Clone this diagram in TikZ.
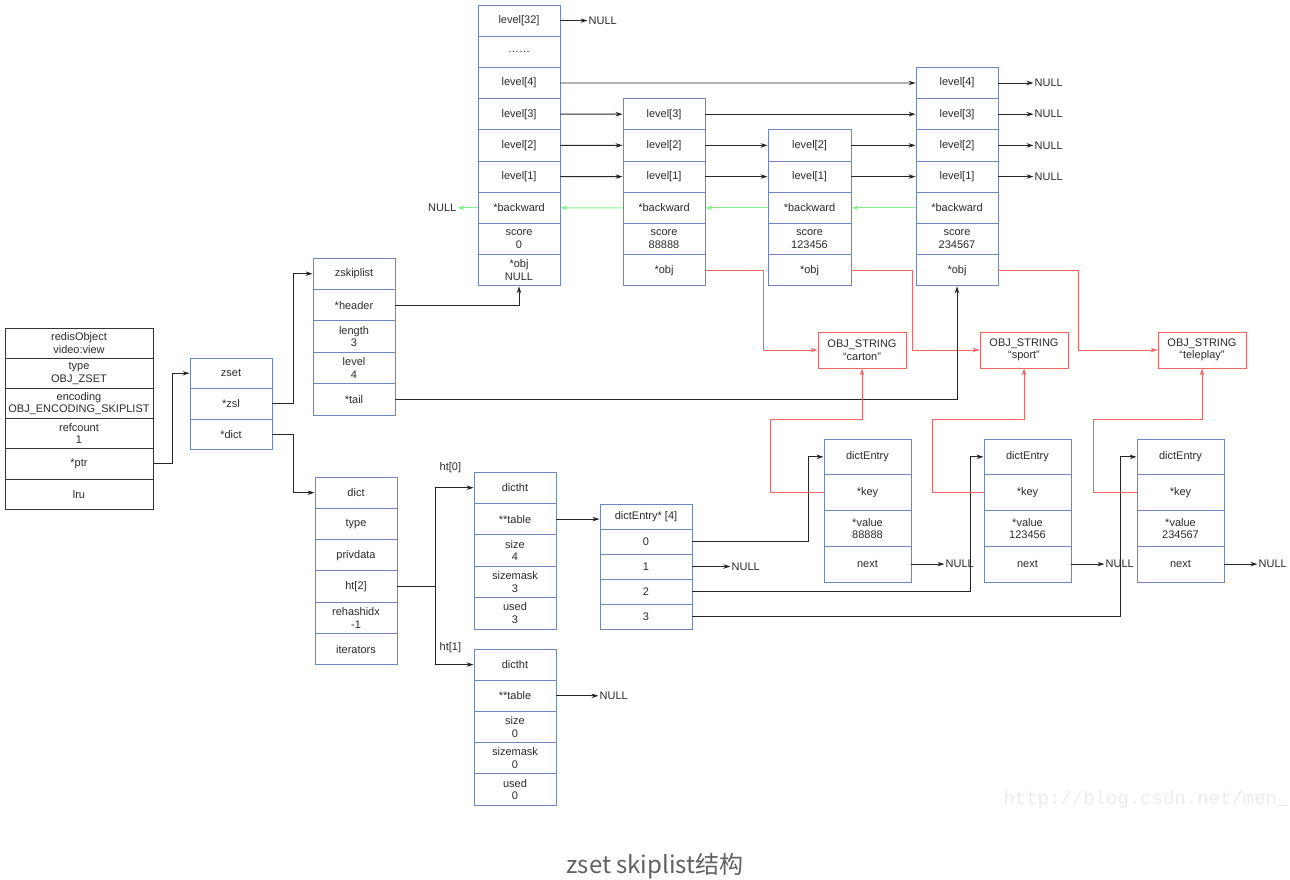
\documentclass[tikz,border=0pt]{standalone}
\usepackage{fontspec}
\setmainfont{Liberation Sans}
\newfontfamily\capfont{Noto Sans CJK SC}
\newfontfamily\wmfont{Liberation Mono}
\usetikzlibrary{arrows.meta}
\definecolor{boxblue}{HTML}{6F86C0}
\definecolor{objred}{HTML}{F06464}
\definecolor{backgreen}{HTML}{88EE88}
\definecolor{txtgray}{HTML}{2A2A2A}
\begin{document}
\begin{tikzpicture}[x=1pt,y=-1pt,
    cell/.style={draw=boxblue,line width=0.9pt,inner sep=0pt,align=center,text=txtgray,font=\fontsize{11}{12.5}\selectfont},
    strbox/.style={cell,draw=objred,minimum width=88pt,minimum height=36pt},
    nul/.style={anchor=west,inner sep=1pt,text=txtgray,font=\fontsize{11}{12.5}\selectfont},
    ptr/.style={-{Stealth[length=7pt,width=4.5pt]},line width=0.9pt,draw=black!85},
    objptr/.style={ptr,draw=objred},
    backptr/.style={ptr,draw=backgreen}]
    \useasboundingbox (0,0) rectangle (1290,880);

    \foreach [count=\i] \t in {{redisObject\\video:view},{type\\OBJ\_ZSET},{encoding\\OBJ\_ENCODING\_SKIPLIST},{refcount\\1},*ptr,lru}
        \node[cell,draw=black!80,minimum width=148pt,minimum height=30.2pt] (ro-\i) at (79,312.9+30.2*\i) {\t};
    \foreach [count=\i] \t in {zset,*zsl,*dict}
        \node[cell,minimum width=82pt,minimum height=30.5pt] (zs-\i) at (231,342.75+30.5*\i) {\t};
    \foreach [count=\i] \t in {zskiplist,*header,{length\\3},{level\\4},*tail}
        \node[cell,minimum width=82pt,minimum height=31.4pt] (zl-\i) at (354,242.3+31.4*\i) {\t};

    \foreach [count=\i] \t in {level[32],{\ldots\ldots},level[4],level[3],level[2],level[1],*backward,{score\\0},{*obj\\NULL}}
        \node[cell,minimum width=82pt,minimum height=31.2pt] (hd-\i) at (519,-10.6+31.2*\i) {\t};
    \foreach [count=\i] \t in {level[3],level[2],level[1],*backward,{score\\88888},*obj}
        \node[cell,minimum width=82pt,minimum height=31.2pt] (sk1-\i) at (664,83+31.2*\i) {\t};
    \foreach [count=\i] \t in {level[2],level[1],*backward,{score\\123456},*obj}
        \node[cell,minimum width=83pt,minimum height=31.2pt] (sk2-\i) at (809.5,114.2+31.2*\i) {\t};
    \foreach [count=\i] \t in {level[4],level[3],level[2],level[1],*backward,{score\\234567},*obj}
        \node[cell,minimum width=82pt,minimum height=31.2pt] (sk3-\i) at (957,51.8+31.2*\i) {\t};

    \node[strbox] (os1) at (862,350) {OBJ\_STRING\\``carton''};
    \node[strbox] (os2) at (1024,350) {OBJ\_STRING\\``sport''};
    \node[strbox] (os3) at (1202,350) {OBJ\_STRING\\``teleplay''};

    \foreach [count=\i] \t in {dict,type,privdata,ht[2],{rehashidx\\-1},iterators}
        \node[cell,minimum width=82pt,minimum height=31.3pt] (dc-\i) at (356,461.35+31.3*\i) {\t};
    \foreach [count=\i] \t in {dictht,**table,{size\\4},{sizemask\\3},{used\\3}}
        \node[cell,minimum width=82pt,minimum height=31.4pt] (ta-\i) at (515,456.3+31.4*\i) {\t};
    \foreach [count=\i] \t in {dictht,**table,{size\\0},{sizemask\\0},{used\\0}}
        \node[cell,minimum width=82pt,minimum height=31.2pt] (tb-\i) at (515,633.4+31.2*\i) {\t};
    \foreach [count=\i] \t in {dictEntry* [4],0,1,2,3}
        \node[cell,minimum width=92pt,minimum height=25pt] (de-\i) at (646,491.5+25*\i) {\t};
    \foreach \e/\x/\v in {e1/867.5/88888,e2/1027.5/123456,e3/1180.5/234567}
        \foreach [count=\i] \t in {dictEntry,*key,{*value\\\v},next}
            \node[cell,minimum width=87pt,minimum height=35.75pt] (\e-\i) at (\x,421.1+35.75*\i) {\t};

    \node[nul] (nl-32) at ([xshift=27pt]hd-1.east) {NULL};
    \node[nul,anchor=east] (nl-b) at ([xshift=-20pt]hd-7.west) {NULL};
    \foreach \i in {1,...,4}
        \node[nul] (nl-\i) at ([xshift=35pt]sk3-\i.east) {NULL};
    \node[nul] (nl-tb) at ([xshift=42pt]tb-2.east) {NULL};
    \node[nul] (nl-de) at ([xshift=38pt]de-3.east) {NULL};
    \foreach \e in {e1,e2,e3}
        \node[nul] (nl-\e) at ([xshift=33pt]\e-4.east) {NULL};

    % skiplist levels
    \foreach \a/\b in {hd-3/sk3-1,hd-4/sk1-1,sk1-1/sk3-2,hd-5/sk1-2,sk1-2/sk2-1,sk2-1/sk3-3,hd-6/sk1-3,sk1-3/sk2-2,sk2-2/sk3-4,hd-1/nl-32,sk3-1/nl-1,sk3-2/nl-2,sk3-3/nl-3,sk3-4/nl-4}
        \draw[ptr] (\a.east) -- (\b.west);
    \foreach \a/\b in {hd-7/nl-b,sk1-4/hd-7,sk2-3/sk1-4,sk3-5/sk2-3}
        \draw[backptr] (\a.west) -- (\b.east);

    \draw[objptr] (sk1-6.east) -- ++(58,0) |- (os1.west);
    \draw[objptr] (sk2-5.east) -- ++(61,0) |- (os2.west);
    \draw[objptr] (sk3-7.east) -- ++(80,0) |- (os3.west);

    \draw[ptr] (ro-5.east) -- ++(19,0) |- (zs-1.west);
    \draw[ptr] (zs-2.east) -- ++(21,0) |- (zl-1.west);
    \draw[ptr] (zs-3.east) -- ++(21,0) |- (dc-1.west);
    \draw[ptr] (zl-2.east) -| (hd-9.south);
    \draw[ptr] (zl-5.east) -| (sk3-7.south);

    % dict
    \draw[ptr] (dc-4.east) -- ++(38,0) coordinate (fork) |- (ta-1.west);
    \draw[ptr] (fork) |- (tb-1.west);
    \path (fork |- ta-1) ++(3,-20) node[nul] (ht0) {ht[0]};
    \path (fork |- tb-1) ++(3,-17) node[nul] (ht1) {ht[1]};
    \draw[ptr] (ta-2.east) -- (ta-2.east -| de-1.west);
    \draw[ptr] (tb-2.east) -- (nl-tb.west);
    \draw[ptr] (de-2.east) -- ++(116,0) |- (e1-1.west);
    \draw[ptr] (de-3.east) -- (nl-de.west);
    \draw[ptr] (de-4.east) -- ++(278,0) |- (e2-1.west);
    \draw[ptr] (de-5.east) -- ++(428,0) |- (e3-1.west);
    \foreach \e in {e1,e2,e3}
        \draw[ptr] (\e-4.east) -- (nl-\e.west);

    \draw[objptr] (e1-2.west) -- ++(-53,0) -- ++(0,-73) -| (os1.south);
    \draw[objptr] (e2-2.west) -- ++(-51,0) -- ++(0,-73) -| (os2.south);
    \draw[objptr] (e3-2.west) -- ++(-43,0) -- ++(0,-73) -| (os3.south);

    \node[anchor=west,text=black!8,font=\wmfont\fontsize{19}{20}\selectfont] (wm) at (1000,800) {http://blog.csdn.net/men\_};
    \node[text=black!62,font=\capfont\fontsize{24}{28}\selectfont] (cap) at (655,866) {zset skiplist结构};
\end{tikzpicture}
\end{document}
